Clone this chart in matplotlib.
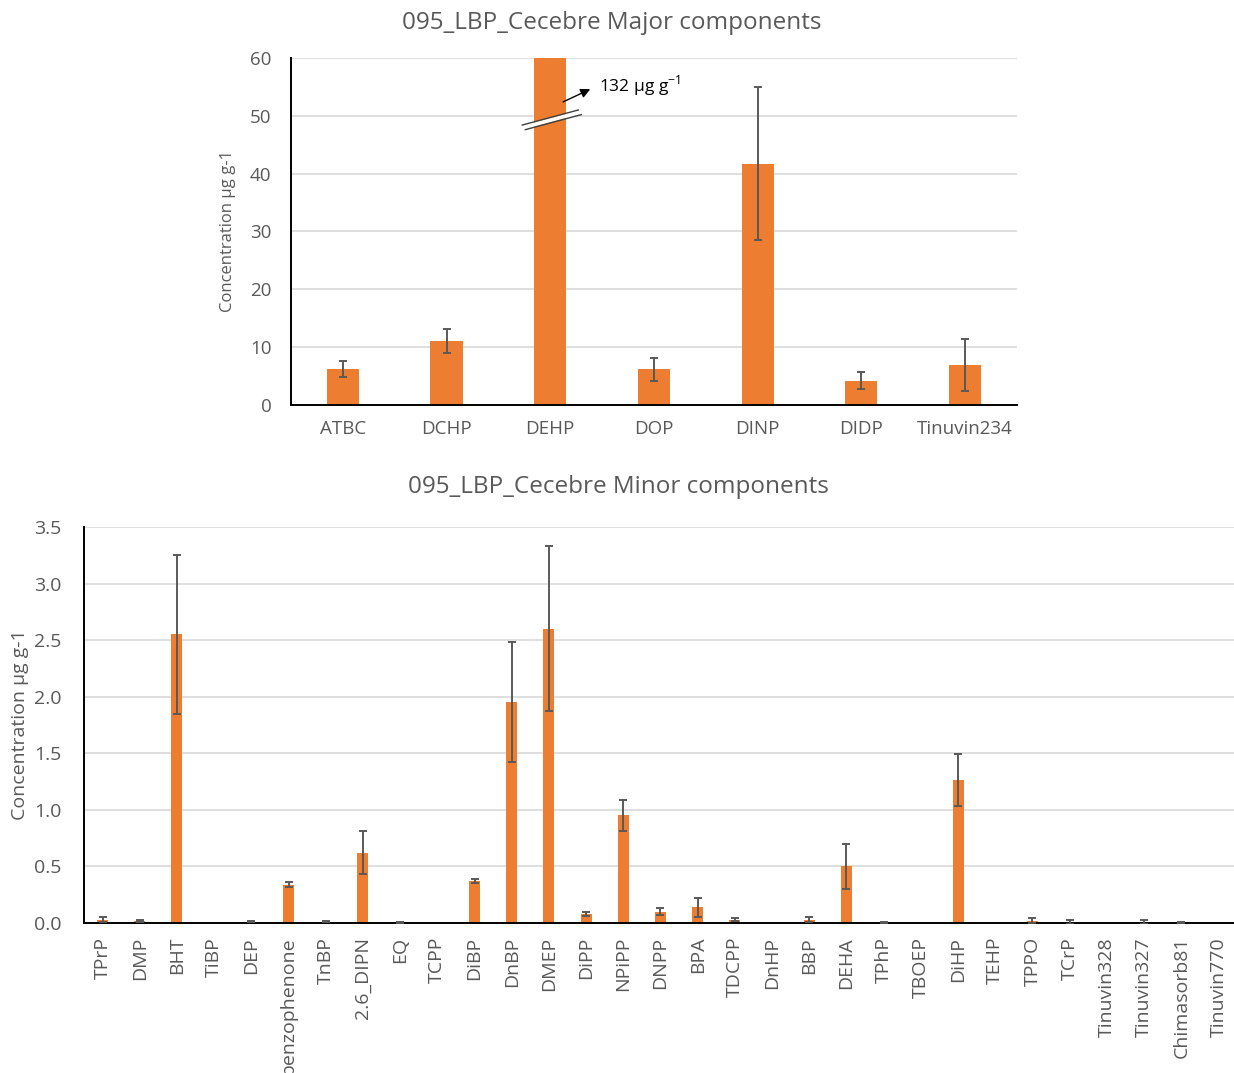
import matplotlib
matplotlib.use("Agg")
import matplotlib.pyplot as plt
import numpy as np

plt.rcParams["font.family"] = ["Open Sans", "DejaVu Sans"]
plt.rcParams["mathtext.fontset"] = "custom"
plt.rcParams["mathtext.rm"] = "Open Sans"

# major components (µg g-1)
major_names = ["ATBC", "DCHP", "DEHP", "DOP", "DINP", "DIDP", "Tinuvin234"]
major_mean = [6.2, 11.1, 132.0, 6.2, 41.7, 4.2, 6.9]
major_err = [1.4, 2.1, 0.0, 2.0, 13.2, 1.45, 4.5]

# minor components (µg g-1)
minor_names = ["TPrP", "DMP", "BHT", "TiBP", "DEP", "benzophenone", "TnBP",
               "2.6_DIPN", "EQ", "TCPP", "DiBP", "DnBP", "DMEP", "DiPP",
               "NPiPP", "DNPP", "BPA", "TDCPP", "DnHP", "BBP", "DEHA", "TPhP",
               "TBOEP", "DiHP", "TEHP", "TPPO", "TCrP", "Tinuvin328",
               "Tinuvin327", "Chimasorb81", "Tinuvin770"]
minor_mean = [0.03, 0.02, 2.55, 0.0, 0.01, 0.34, 0.01, 0.62, 0.005, 0.0,
              0.37, 1.95, 2.6, 0.08, 0.95, 0.1, 0.14, 0.03, 0.0, 0.03, 0.5,
              0.005, 0.0, 1.26, 0.0, 0.02, 0.01, 0.0, 0.01, 0.005, 0.0]
minor_err = [0.02, 0.01, 0.7, 0.0, 0.005, 0.02, 0.005, 0.19, 0.003, 0.0,
             0.015, 0.53, 0.73, 0.015, 0.135, 0.03, 0.085, 0.015, 0.0, 0.02,
             0.2, 0.004, 0.0, 0.23, 0.0, 0.02, 0.015, 0.0, 0.015, 0.003, 0.0]

orange = "#ED7D31"
grey = "#595959"
grid = "#D9D9D9"

fig = plt.figure(figsize=(12.34, 10.73), dpi=100)


def style(ax):
    ax.set_axisbelow(True)
    ax.yaxis.grid(True, color=grid, lw=1.2)
    for s in ["top", "right"]:
        ax.spines[s].set_visible(False)
    ax.spines["left"].set_linewidth(1.4)
    ax.spines["bottom"].set_linewidth(1.4)
    ax.tick_params(axis="both", length=0, colors=grey)


# --- top panel ---
ax1 = fig.add_axes([0.2358, 0.6226, 0.5883, 0.3234])
x1 = np.arange(len(major_names))
ax1.bar(x1, major_mean, width=0.31, color=orange, zorder=2)
err1 = [e if e > 0 else np.nan for e in major_err]
ax1.errorbar(x1, major_mean, yerr=err1, fmt="none", ecolor=grey,
             elinewidth=1.4, capsize=3, capthick=1.4, zorder=3)
ax1.set_xlim(-0.5, len(major_names) - 0.5)
ax1.set_ylim(0, 60)
ax1.set_yticks(range(0, 61, 10))
ax1.set_xticks(x1)
ax1.set_xticklabels(major_names, fontsize=13.5)
ax1.tick_params(axis="x", pad=11)
ax1.tick_params(axis="y", labelsize=13.5, pad=14)
style(ax1)
ax1.set_ylabel("Concentration µg g-1", fontsize=12, color=grey, labelpad=10)

# axis break on the DEHP bar
i = major_names.index("DEHP")
bx = np.array([i - 0.27, i + 0.27])
ax1.fill_between(bx, [47.7 + 0.7, 50.3 + 0.7], [47.7, 50.3],
                 color="white", zorder=4, lw=0)
ax1.plot(bx, [48.4, 51.0], color="#404040", lw=1, zorder=5)
ax1.plot(bx + 0.03, [47.6, 50.2], color="#404040", lw=1, zorder=5)
ax1.annotate("", xy=(i + 0.41, 54.8), xytext=(i + 0.1, 52.2),
             arrowprops=dict(arrowstyle="-|>", color="black", lw=1,
                             mutation_scale=14), zorder=6)
ax1.text(i + 0.47, 55.2, "%d µg g$^{-1}$" % major_mean[i], fontsize=12.5,
         color="black", va="center", ha="left", zorder=6)

fig.text(0.496, 0.979, "095_LBP_Cecebre Major components", ha="center",
         va="center", fontsize=17.5, color=grey)

# --- bottom panel ---
ax2 = fig.add_axes([0.068, 0.1398, 0.9345, 0.3691])
x2 = np.arange(len(minor_names))
ax2.bar(x2, minor_mean, width=0.3, color=orange, zorder=2)
err2 = [e if e > 0 else np.nan for e in minor_err]
ax2.errorbar(x2, minor_mean, yerr=err2, fmt="none", ecolor=grey,
             elinewidth=1.4, capsize=3, capthick=1.4, zorder=3)
ax2.set_xlim(-0.5, len(minor_names) - 0.5)
ax2.set_ylim(0, 3.5)
ax2.set_yticks(np.arange(0, 3.51, 0.5))
ax2.set_yticklabels(["%.1f" % v for v in np.arange(0, 3.51, 0.5)])
ax2.set_xticks(x2)
ax2.set_xticklabels(minor_names, rotation=90, fontsize=14)
ax2.tick_params(axis="x", pad=10)
ax2.tick_params(axis="y", labelsize=14, pad=16)
style(ax2)
ax2.set_ylabel("Concentration µg g-1", fontsize=14, color=grey, labelpad=4)

fig.text(0.501, 0.546, "095_LBP_Cecebre Minor components", ha="center",
         va="center", fontsize=17.5, color=grey)

fig.savefig("out.png", dpi=100)
